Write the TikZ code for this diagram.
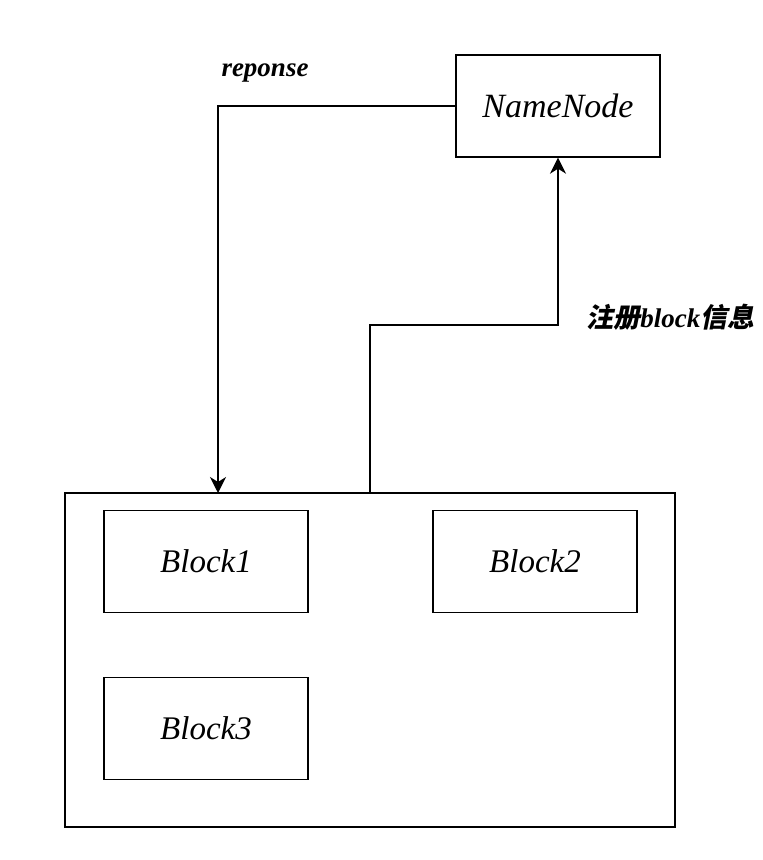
\documentclass[tikz,border=0pt]{standalone}
\usepackage{fontspec}
\setmainfont{Liberation Serif}
\newfontfamily\cjk[FakeSlant=0.2]{Noto Sans CJK SC Bold}
\usetikzlibrary{arrows.meta,positioning}
\tikzset{
  box/.style={draw, line width=0.7pt, minimum width=102pt, minimum height=51pt, inner sep=0pt, font=\fontsize{17}{20}\selectfont\itshape},
  blockbox/.style={box, font=\fontsize{16.5}{20}\selectfont\itshape},
  link/.style={line width=0.7pt, -{Stealth[length=8pt,width=8pt,inset=2.5pt]}},
  lbl/.style={inner sep=0pt, font=\fontsize{13.5}{16}\selectfont\bfseries\itshape}
}
\begin{document}
\begin{tikzpicture}[x=0.5pt,y=-0.5pt]
        \useasboundingbox (0,0) rectangle (762,860);
        % NameNode at the top
        \node[box] (namenode) at (558,106) {NameNode};

        % The DataNode with its blocks
        \node[draw, line width=0.7pt, minimum width=305pt, minimum height=167pt, inner sep=0pt] (datanode) at (370,660) {};
        \node[blockbox] (block1) at (206,561.5) {Block1};
        \node[blockbox] (block2) at (535,561.5) {Block2};
        \node[blockbox] (block3) at (206,728.5) {Block3};

        % Connectors
        \coordinate (in) at (218,493);
        \coordinate (out) at (370,493);
        \coordinate (bend) at (370,325);
        \draw[link] (namenode.west) -| (in);
        \draw[link] (out) -- (bend) -| (namenode.south);

        % Labels
        \node[lbl] (reponse) at (265,73) {reponse};
        \node[lbl, anchor=west] (register) at (586,317) {{\cjk 注册}block{\cjk 信息}};
    \end{tikzpicture}
\end{document}
